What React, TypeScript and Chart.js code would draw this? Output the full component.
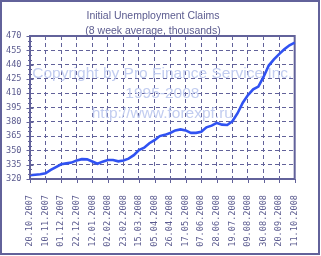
import { useEffect, useRef } from "react";
import { Chart, registerables } from "chart.js";

Chart.register(...registerables);

const weeks = [
  "20.10.2007", "27.10.2007", "03.11.2007", "10.11.2007", "17.11.2007", "24.11.2007",
  "01.12.2007", "08.12.2007", "15.12.2007", "22.12.2007", "29.12.2007", "05.01.2008",
  "12.01.2008", "19.01.2008", "26.01.2008", "02.02.2008", "09.02.2008", "16.02.2008",
  "23.02.2008", "01.03.2008", "08.03.2008", "15.03.2008", "22.03.2008", "29.03.2008",
  "05.04.2008", "12.04.2008", "19.04.2008", "26.04.2008", "03.05.2008", "10.05.2008",
  "17.05.2008", "24.05.2008", "31.05.2008", "07.06.2008", "14.06.2008", "21.06.2008",
  "28.06.2008", "05.07.2008", "12.07.2008", "19.07.2008", "26.07.2008", "02.08.2008",
  "09.08.2008", "16.08.2008", "23.08.2008", "30.08.2008", "06.09.2008", "13.09.2008",
  "20.09.2008", "27.09.2008", "04.10.2008", "11.10.2008",
];

const tickLabels = [
  "20.10.2007", "10.11.2007", "01.12.2007", "22.12.2007", "12.01.2008", "02.02.2008",
  "23.02.2008", "15.03.2008", "05.04.2008", "26.04.2008", "17.05.2008", "07.06.2008",
  "28.06.2008", "19.07.2008", "09.08.2008", "30.08.2008", "20.09.2008", "11.10.2008",
];

const claims = [
  324, 324.5, 325, 326, 329.5, 332.5, 335.4, 336.4, 337.2, 339.5,
  340.8, 340.6, 338.4, 336, 338.2, 339.9, 339.9, 338.5, 339.5, 341.3,
  345, 350.4, 352.8, 357.5, 360.7, 365, 366.3, 368.3, 371, 372,
  371, 368.4, 368.4, 369.5, 374.2, 376, 378.8, 377, 376.6, 380.5,
  389, 400, 408, 414, 417, 427, 439, 445.5, 451, 456,
  460.3, 463,
];

const watermarkLines = ["Copyright by Pro Finance Service Inc.", "1995-2008", "http://www.forexpf.ru"];

const titleText = "Initial Unemployment Claims";
const subtitleText = "(8 week average, thousands)";

const Y_MIN = 320;
const Y_MAX = 470;
const Y_STEP = 15;
const Y_MINOR = 5;

const TEXT = "#5b5b8f";
const LINE = "#62629a";
const SERIES = "#3052f2";
const WATER = "#c2cdf0";

export default function App() {
  const ref = useRef<HTMLCanvasElement>(null);

  useEffect(() => {
    const decor = {
      id: "decor",
      beforeDatasetsDraw(chart: any) {
        const { ctx, chartArea } = chart;
        ctx.save();
        // watermark
        ctx.fillStyle = WATER;
        ctx.font = '15.5px "Liberation Sans", Arial, sans-serif';
        ctx.textAlign = "center";
        ctx.textBaseline = "alphabetic";
        const cx = (chartArea.left + chartArea.right) / 2;
        watermarkLines.forEach((t, i) => {
          ctx.fillText(t, cx, chartArea.top + 42.3 + i * 20);
        });
        // plot border
        ctx.strokeStyle = LINE;
        ctx.lineWidth = 2;
        ctx.strokeRect(chartArea.left, chartArea.top, chartArea.right - chartArea.left, chartArea.bottom - chartArea.top);
        ctx.restore();
      },
      afterDraw(chart: any) {
        const { ctx, chartArea, scales } = chart;
        ctx.save();
        ctx.strokeStyle = LINE;
        ctx.lineWidth = 1;
        // y ticks (major + minor)
        for (let v = Y_MIN; v <= Y_MAX; v += Y_MINOR) {
          const y = Math.round(scales.y.getPixelForValue(v)) + 0.5;
          const major = (v - Y_MIN) % Y_STEP === 0;
          ctx.beginPath();
          ctx.moveTo(chartArea.left - (major ? 3.5 : 2), y);
          ctx.lineTo(chartArea.left + (major ? 3.5 : 2), y);
          ctx.stroke();
        }
        // x ticks
        weeks.forEach((w, i) => {
          if (!tickLabels.includes(w)) return;
          const x = Math.round(scales.x.getPixelForValue(i)) + 0.5;
          ctx.beginPath();
          ctx.moveTo(x, chartArea.bottom);
          ctx.lineTo(x, chartArea.bottom + 4);
          ctx.stroke();
        });
        // outer frame
        ctx.lineWidth = 2;
        ctx.strokeRect(1, 1, 318, 253);
        ctx.restore();
      },
    };

    const chart = new Chart(ref.current!, {
      type: "line",
      data: {
        labels: weeks,
        datasets: [
          {
            data: claims,
            borderColor: SERIES,
            borderWidth: 2.6,
            pointRadius: 0,
            tension: 0,
            fill: false,
          },
        ],
      },
      options: {
        responsive: false,
        animation: false,
        devicePixelRatio: 1,
        layout: { padding: { left: 0, right: 15, top: 0.25, bottom: 0 } },
        plugins: {
          legend: { display: false },
          tooltip: { enabled: false },
          title: {
            display: true,
            text: titleText,
            color: TEXT,
            font: { family: '"Liberation Sans", Arial, sans-serif', size: 10.5, weight: "normal", lineHeight: 1 },
            padding: { top: 10.45, bottom: 0 },
          },
          subtitle: {
            display: true,
            text: subtitleText,
            color: TEXT,
            font: { family: '"Liberation Sans", Arial, sans-serif', size: 10.5, weight: "normal", lineHeight: 1 },
            padding: { top: 4.3, bottom: 0 },
          },
        },
        scales: {
          x: {
            type: "category",
            offset: false,
            grid: {
              color: (c: any) => (c.index % 3 === 0 && c.index !== 0 && c.index !== weeks.length - 1 ? LINE : "transparent"),
              lineWidth: 1,
              drawTicks: false,
            },
            border: { display: false, dash: [4, 3] },
            ticks: {
              autoSkip: false,
              minRotation: 90,
              maxRotation: 90,
              padding: 16,
              color: TEXT,
              font: { family: '"DejaVu Sans Mono", monospace', size: 8.6 },
              callback: (_v: any, i: number) => (tickLabels.includes(weeks[i]) ? weeks[i] : ""),
            },
            afterFit: (s: any) => {
              s.height = 77;
            },
          },
          y: {
            min: Y_MIN,
            max: Y_MAX,
            grid: {
              color: (c: any) => (c.tick && c.tick.value > Y_MIN && c.tick.value < Y_MAX ? LINE : "transparent"),
              lineWidth: 1,
              drawTicks: false,
            },
            border: { display: false, dash: [4, 3] },
            ticks: {
              stepSize: Y_STEP,
              padding: 8.5,
              color: TEXT,
              font: { family: '"DejaVu Sans Mono", monospace', size: 8.6 },
            },
            afterFit: (s: any) => {
              s.width = 30;
            },
          },
        },
      },
      plugins: [decor],
    } as any);

    return () => chart.destroy();
  }, []);

  return (
    <div style={{ position: "fixed", left: 0, top: 0, width: 321, height: 256, background: "#fff" }}>
      <canvas ref={ref} width={321} height={256} style={{ display: "block", width: 321, height: 256 }} />
    </div>
  );
}
